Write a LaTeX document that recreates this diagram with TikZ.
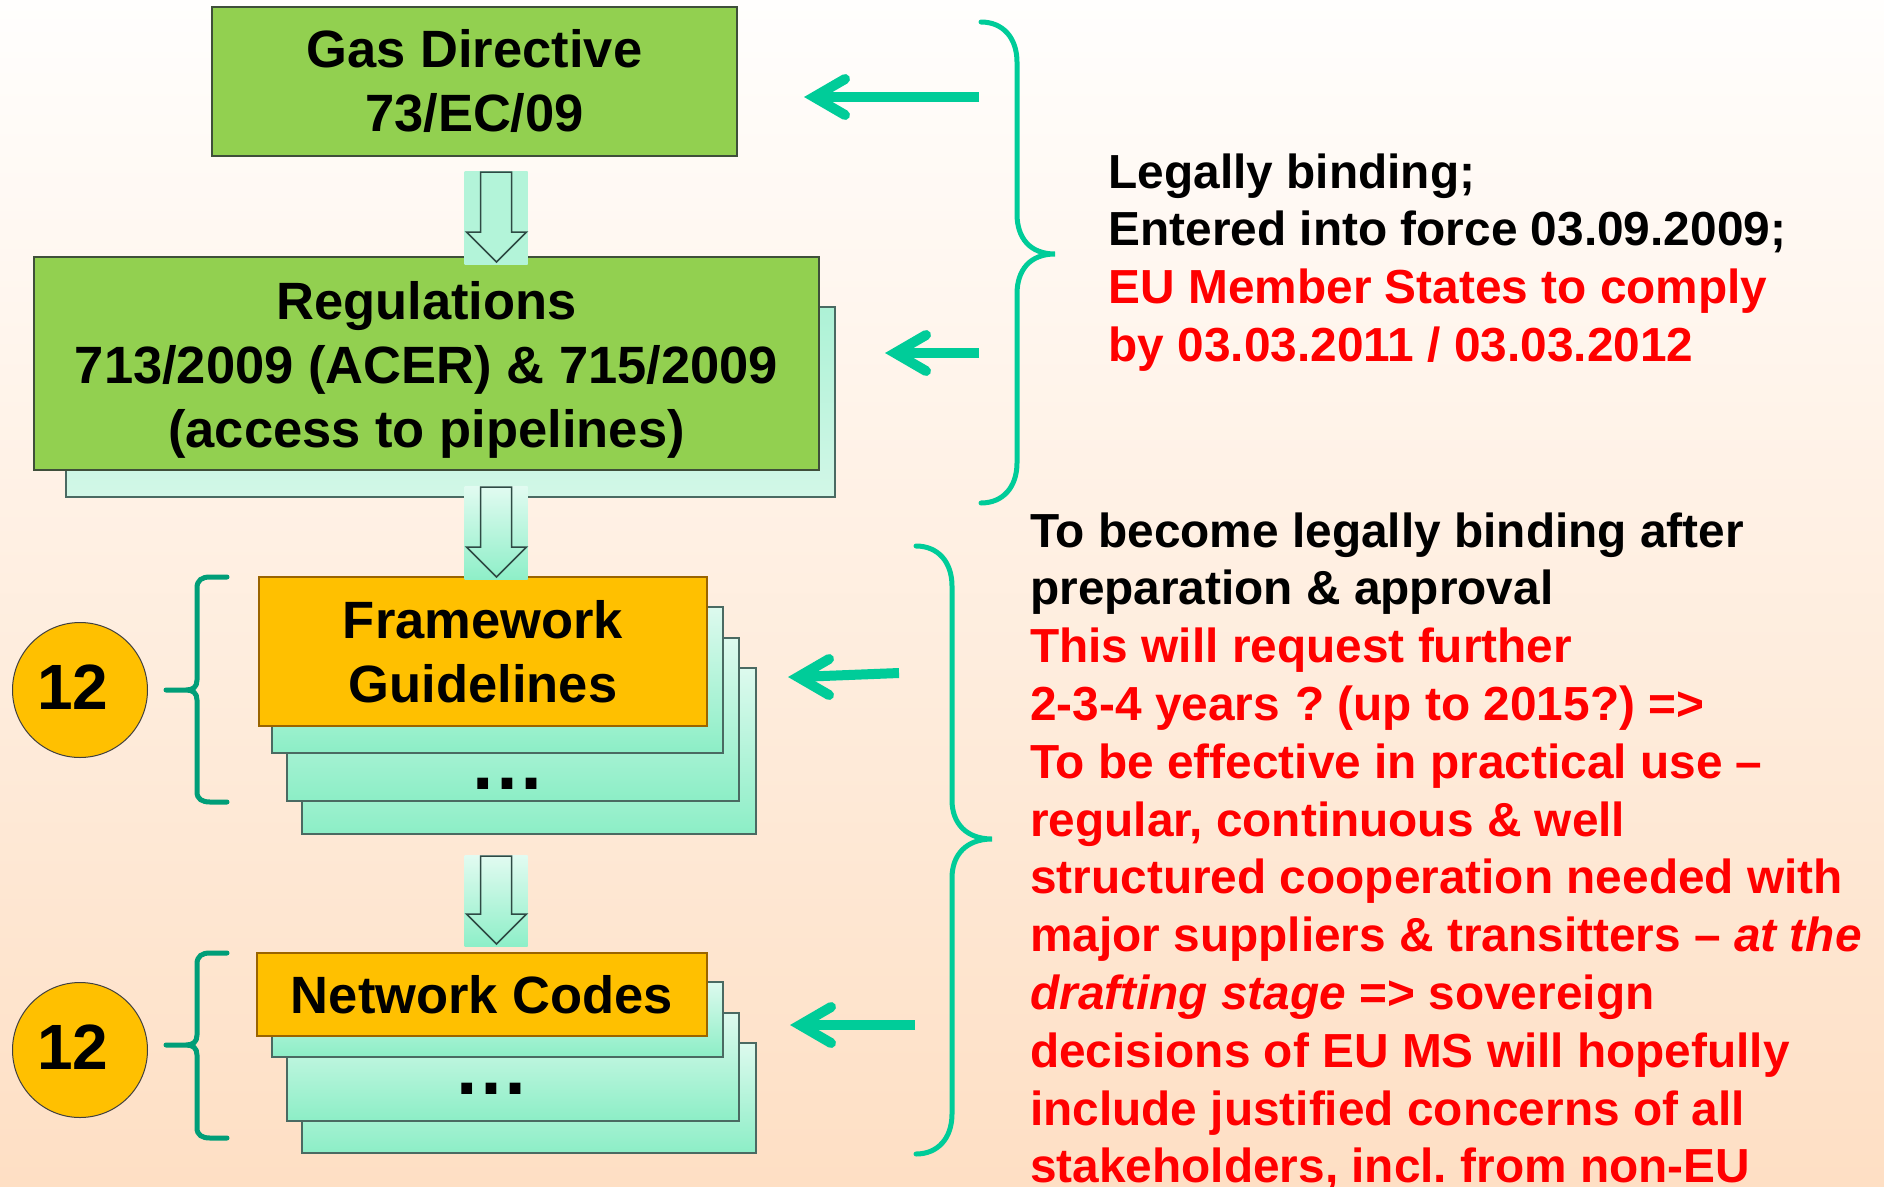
\documentclass[tikz,border=0pt]{standalone}
\usepackage{fontspec}
\setmainfont{Liberation Sans}
\usetikzlibrary{calc}

\definecolor{bgtop}{HTML}{FFFEFD}
\definecolor{bgbottom}{HTML}{FEDFC4}
\definecolor{leafgreen}{HTML}{92D050}
\definecolor{amber}{HTML}{FFC000}
\definecolor{mint}{HTML}{00CC99}
\definecolor{deepmint}{HTML}{009E78}
\definecolor{paleA}{HTML}{DDFAEE}
\definecolor{paleB}{HTML}{8CEEC6}
\definecolor{regtop}{HTML}{ADF2D6}
\definecolor{regbottom}{HTML}{D2F7E7}
\definecolor{flowmid}{HTML}{8EEFC8}
\definecolor{flowtopA}{HTML}{B3F4D9}
\definecolor{flowlight}{HTML}{E2FBF1}
\definecolor{edgegrey}{HTML}{3F4F3A}
\definecolor{stackedge}{HTML}{4A6A62}
\definecolor{amberedge}{HTML}{9A6400}
\definecolor{darkline}{HTML}{404040}
\definecolor{flowline}{HTML}{2E4A44}
\definecolor{alert}{HTML}{FF0000}

\newcommand\boxfont{\fontsize{52.5}{64}\selectfont\bfseries}
\newcommand\badgefont{\fontsize{64}{64}\selectfont\bfseries}
\newcommand\morefont{\fontsize{76}{76}\selectfont\bfseries}
\newcommand\remarkfont{\fontsize{47.8}{57.8}\selectfont\bfseries}

% block arrow inside a shaded strip: #1 top centre, #2 bottom centre, #3 shading
\newcommand\flowarrow[3]{%
  \shade[#3] ($(#1)+(-32,0)$) rectangle ($(#2)+(31,0)$);
  \draw[flowedge] ($(#1)+(-16,1)$) -- ($(#1)+(15,1)$) -- ($(#2)+(15,-32)$)
    -- ($(#2)+(30,-32)$) -- ($(#2)+(0,-2)$) -- ($(#2)+(-30,-32)$)
    -- ($(#2)+(-16,-32)$) -- cycle;}

% thick pointer: #1 tail, #2 head vertex
\newcommand\pointerdraw[2]{%
  \draw[pointer] (#1) -- (#2);
  \draw[pointer, line cap=round, line join=miter]
    ($(#2)+(31,-18)$) -- (#2) -- ($(#2)+(31,18)$);}

\begin{document}
\frenchspacing
\begin{tikzpicture}[x=1pt, y=-1pt,
  gbox/.style={draw=edgegrey, line width=1.5pt, fill=leafgreen, inner sep=0pt,
    align=center, font=\boxfont},
  obox/.style={draw=amberedge, line width=1.5pt, fill=amber, inner sep=0pt,
    align=center, font=\boxfont},
  stackcard/.style={draw=stackedge, line width=1.5pt, top color=paleA, bottom color=paleB},
  regshade/.style={draw=stackedge, line width=1.5pt, top color=regtop, bottom color=regbottom},
  badge/.style={circle, draw=darkline, line width=1pt, fill=amber, minimum size=135pt,
    inner sep=0pt, font=\badgefont},
  pointer/.style={draw=mint, line width=10pt},
  bigbrace/.style={draw=mint, line width=5pt, line cap=round},
  smallbrace/.style={draw=deepmint, line width=5pt, line cap=round},
  flowedge/.style={draw=flowline, line width=1.5pt, line join=miter},
  remark/.style={inner sep=0pt, anchor=north west, align=left, font=\remarkfont},
  more/.style={inner sep=0pt, font=\morefont}]

\useasboundingbox (0,0) rectangle (1884,1186);
\shade[top color=bgtop, bottom color=bgbottom] (0,0) rectangle (1884,1186);

% ---- Gas Directive and Regulations
\draw[regshade] (66,307) rectangle (835,497);
\node[gbox, minimum width=525, minimum height=149] (gd) at (474.5,81.5)
  {Gas Directive\\73/EC/09};
\node[gbox, minimum width=785, minimum height=213] (reg) at (426.5,363.5) {};
\node[font=\boxfont, align=center, inner sep=0pt] (regtext) at (426.5,369.5)
  {Regulations\\713/2009 (ACER) \& 715/2009\\(access to pipelines)};

% ---- Framework Guidelines stack
\draw[stackcard] (302,668) rectangle (756,834);
\draw[stackcard] (287,638) rectangle (739,801);
\draw[stackcard] (272,607) rectangle (723,753);
\node[more] (fgmore) at (507,784) {…};
\node[obox, minimum width=448, minimum height=149] (fg) at (483,651.5)
  {Framework\\Guidelines};

% ---- Network Codes stack
\draw[stackcard] (302,1043) rectangle (756,1153);
\draw[stackcard] (287,1013) rectangle (739,1121);
\draw[stackcard] (272,982) rectangle (723,1057);
\node[more] (ncmore) at (491,1089) {…};
\node[obox, minimum width=450, minimum height=83] (nc) at (482,994.5)
  {Network Codes};

% ---- flow arrows between the levels
\coordinate (flowAtop) at (496.5,171);
\coordinate (flowAbot) at (496.5,264);
\coordinate (flowBtop) at (496.5,486);
\coordinate (flowBbot) at (496.5,579);
\coordinate (flowCtop) at (496.5,855);
\coordinate (flowCbot) at (496.5,946);
\flowarrow{flowAtop}{flowAbot}{top color=flowtopA, middle color=flowmid, bottom color=flowtopA}
\flowarrow{flowBtop}{flowBbot}{top color=flowlight, bottom color=flowmid}
\flowarrow{flowCtop}{flowCbot}{top color=flowlight, bottom color=flowmid}

% ---- counters
\node[badge] (fgcount) at (80,690) {};
\node[font=\badgefont, inner sep=0pt] (fgnum) at (73,687) {12};
\node[badge] (nccount) at (80,1050) {};
\node[font=\badgefont, inner sep=0pt] (ncnum) at (73,1047) {12};

% ---- small braces
\draw[smallbrace] (227,577) -- (210,577) .. controls (202,577) and (197,580) .. (197,588)
  -- (197,680) .. controls (197,687) and (193,690) .. (186,690) -- (166,690)
  (186,690) .. controls (193,690) and (197,693) .. (197,700)
  -- (197,792) .. controls (197,799) and (202,802) .. (210,802) -- (227,802);
\draw[smallbrace] (227,953) -- (210,953) .. controls (202,953) and (197,956) .. (197,964)
  -- (197,1035) .. controls (197,1042) and (193,1045) .. (186,1045) -- (166,1045)
  (186,1045) .. controls (193,1045) and (197,1048) .. (197,1055)
  -- (197,1128) .. controls (197,1135) and (202,1138) .. (210,1138) -- (227,1138);

% ---- large braces
\draw[bigbrace] (981,22) .. controls (1003,22) and (1017,38) .. (1017,62)
  -- (1017,214) .. controls (1017,238) and (1030,254) .. (1055,254)
  .. controls (1030,254) and (1017,270) .. (1017,294)
  -- (1017,463) .. controls (1017,487) and (1003,503) .. (981,503);
\draw[bigbrace] (916,546) .. controls (938,546) and (952,562) .. (952,586)
  -- (952,800) .. controls (952,824) and (967,839) .. (992,839)
  .. controls (967,839) and (952,854) .. (952,878)
  -- (952,1114) .. controls (952,1138) and (938,1154) .. (916,1154);

% ---- pointers from the braces to the boxes
\coordinate (ptrAtail) at (979,97);   \coordinate (ptrAhead) at (814,97);
\coordinate (ptrBtail) at (979,353);  \coordinate (ptrBhead) at (895,353);
\coordinate (ptrCtail) at (899,673);  \coordinate (ptrChead) at (798,677);
\coordinate (ptrDtail) at (915,1025); \coordinate (ptrDhead) at (800,1025);
\pointerdraw{ptrAtail}{ptrAhead}
\pointerdraw{ptrBtail}{ptrBhead}
\pointerdraw{ptrCtail}{ptrChead}
\pointerdraw{ptrDtail}{ptrDhead}

% ---- notes
\node[remark] (binding) at (1108.5,147.5)
  {\strut Legally binding;\\
   Entered into force 03.09.2009;\\
   \textcolor{alert}{EU Member States to comply}\\
   \textcolor{alert}{by 03.03.2011 / 03.03.2012}};
\node[remark] (future) at (1030,506.5)
  {\strut To become legally binding after\\
   preparation \& approval\\
   \textcolor{alert}{This will request further}\\
   \textcolor{alert}{2-3-4 years \kern2pt? (up to 2015?) =>}\\
   \textcolor{alert}{To be effective in practical use –}\\
   \textcolor{alert}{regular, continuous \& well}\\
   \textcolor{alert}{structured cooperation needed with}\\
   \textcolor{alert}{major suppliers \& transitters – \itshape at the}\\
   \textcolor{alert}{\itshape drafting stage\upshape{} => sovereign}\\
   \textcolor{alert}{decisions of EU MS will hopefully}\\
   \textcolor{alert}{include justified concerns of all}\\
   \textcolor{alert}{stakeholders, incl. from non-EU}};
\end{tikzpicture}
\end{document}
